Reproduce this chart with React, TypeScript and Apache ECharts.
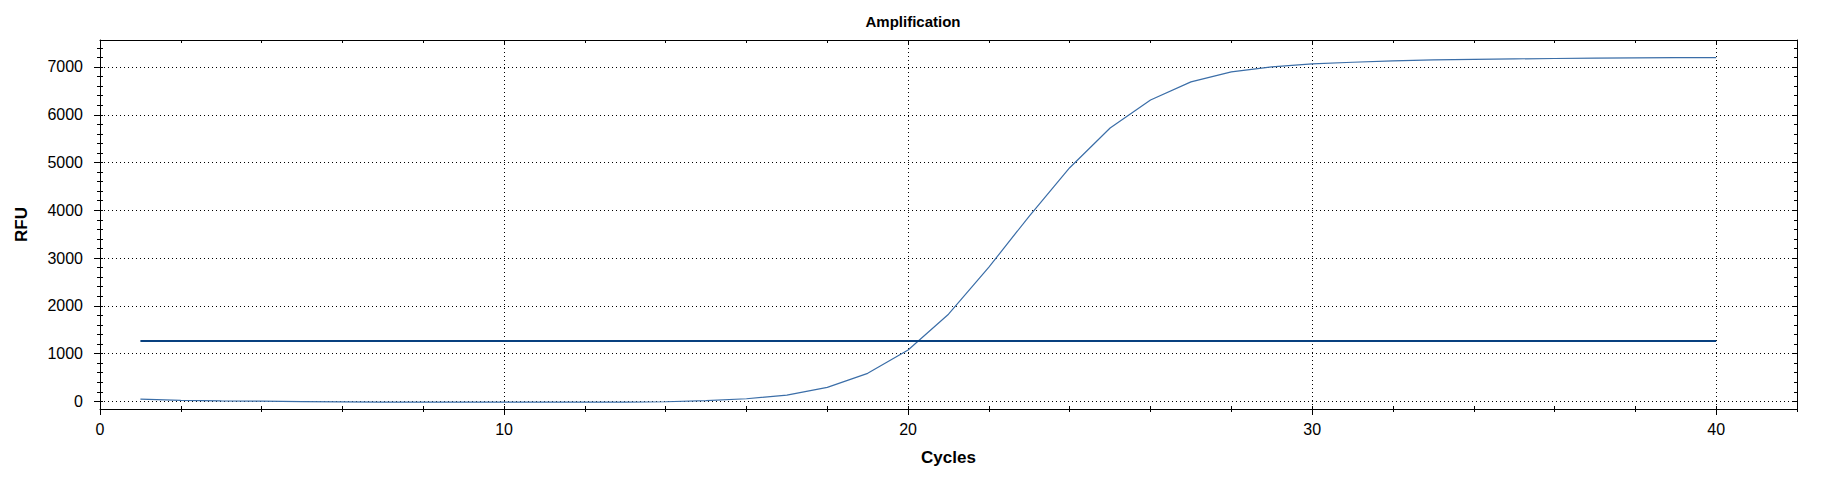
import React, { useRef, useEffect } from 'react';
import * as echarts from 'echarts';

// amplification curve (one well) and its threshold
const cycles = [
  1, 2, 3, 4, 5, 6, 7, 8, 9, 10, 11, 12, 13, 14, 15, 16, 17, 18, 19, 20,
  21, 22, 23, 24, 25, 26, 27, 28, 29, 30, 31, 32, 33, 34, 35, 36, 37, 38, 39, 40,
];
const rfu = [
  45, 20, 10, 5, -5, -12, -15, -16, -17, -18, -18, -18, -16, -8, 15, 55, 132, 293, 587, 1075,
  1824, 2810, 3880, 4891, 5723, 6310, 6688, 6897, 7002, 7065, 7099, 7128, 7149, 7160, 7170, 7178, 7185, 7190, 7195, 7198,
];
const thresholdCycles = [1, 40];
const thresholdRfu = 1265;

const xMajorTicks = [0, 10, 20, 30, 40];
const xMinorTicks = [0, 2, 4, 6, 8, 10, 12, 14, 16, 18, 20, 22, 24, 26, 28, 30, 32, 34, 36, 38, 40, 42];
const yMajorTicks = [0, 1000, 2000, 3000, 4000, 5000, 6000, 7000];
const yMinorTicks = [
  0, 200, 400, 600, 800, 1000, 1200, 1400, 1600, 1800, 2000, 2200, 2400, 2600, 2800, 3000, 3200, 3400, 3600,
  3800, 4000, 4200, 4400, 4600, 4800, 5000, 5200, 5400, 5600, 5800, 6000, 6200, 6400, 6600, 6800, 7000, 7200, 7400,
];

const X_MIN = 0;
const X_MAX = 42;
const Y_MIN = -160;
const Y_MAX = 7565;

const FONT = 'Liberation Sans, Arial, sans-serif';
const BLACK = '#000';

// extra axis used only to draw a set of tick marks
const tickAxis = (
  min: number,
  max: number,
  position: string,
  values: number[],
  length: number,
  inside: boolean,
  showLine = false
) => ({
  type: 'value',
  min,
  max,
  position,
  axisLine: { show: showLine, onZero: false, lineStyle: { color: BLACK, width: 1 } },
  axisTick: { show: true, inside, length, customValues: values, lineStyle: { color: BLACK, width: 1 } },
  axisLabel: { show: false },
  splitLine: { show: false },
});

const App: React.FC = () => {
  const chartRef = useRef<HTMLDivElement>(null);

  useEffect(() => {
    if (!chartRef.current) return;
    const chart = echarts.init(chartRef.current, null, { renderer: 'svg' });

    const dotted = { color: BLACK, width: 1, type: [1, 3] as number[] };

    const option: any = {
      animation: false,
      backgroundColor: '#fff',
      title: {
        text: 'Amplification',
        left: 'center',
        top: 9,
        textStyle: { fontFamily: FONT, fontSize: 15, fontWeight: 'bold', color: BLACK },
      },
      grid: { left: 100, right: 29, top: 40, bottom: 75 },
      xAxis: [
        {
          type: 'value',
          min: X_MIN,
          max: X_MAX,
          interval: 10,
          position: 'bottom',
          name: 'Cycles',
          nameLocation: 'middle',
          nameGap: 40,
          nameTextStyle: { fontFamily: FONT, fontSize: 17, fontWeight: 'bold', color: BLACK },
          axisLine: { show: true, onZero: false, lineStyle: { color: BLACK, width: 1 } },
          axisTick: { show: true, inside: false, length: 6, customValues: xMajorTicks, lineStyle: { color: BLACK } },
          axisLabel: {
            customValues: xMajorTicks,
            formatter: (v: number) => String(v),
            fontFamily: FONT,
            fontSize: 16,
            color: BLACK,
            margin: 12,
          },
          splitLine: { show: true, lineStyle: dotted },
        },
        tickAxis(X_MIN, X_MAX, 'bottom', xMinorTicks, 3, false),
        tickAxis(X_MIN, X_MAX, 'bottom', xMinorTicks, 3, true),
        tickAxis(X_MIN, X_MAX, 'top', xMinorTicks, 3, true, true),
        tickAxis(X_MIN, X_MAX, 'top', xMajorTicks, 5, true),
      ],
      yAxis: [
        {
          type: 'value',
          min: Y_MIN,
          max: Y_MAX,
          splitNumber: 8,
          position: 'left',
          name: 'RFU',
          nameLocation: 'middle',
          nameGap: 70,
          nameTextStyle: { fontFamily: FONT, fontSize: 17, fontWeight: 'bold', color: BLACK },
          axisLine: { show: true, onZero: false, lineStyle: { color: BLACK, width: 1 } },
          axisTick: { show: true, inside: false, length: 6, customValues: yMajorTicks, lineStyle: { color: BLACK } },
          axisLabel: {
            customValues: yMajorTicks,
            formatter: (v: number) => String(v),
            fontFamily: FONT,
            fontSize: 16,
            color: BLACK,
            margin: 17,
          },
          splitLine: { show: true, lineStyle: dotted },
        },
        tickAxis(Y_MIN, Y_MAX, 'left', yMinorTicks, 3, false),
        tickAxis(Y_MIN, Y_MAX, 'left', yMinorTicks, 3, true),
        tickAxis(Y_MIN, Y_MAX, 'right', yMinorTicks, 3, true, true),
        tickAxis(Y_MIN, Y_MAX, 'right', yMajorTicks, 5, true),
      ],
      series: [
        {
          name: 'Well',
          type: 'line',
          xAxisIndex: 0,
          yAxisIndex: 0,
          data: cycles.map((c, i) => [c, rfu[i]]),
          showSymbol: false,
          symbol: 'none',
          lineStyle: { color: '#3b6ea8', width: 1.2 },
          z: 3,
        },
        {
          name: 'Threshold',
          type: 'line',
          xAxisIndex: 0,
          yAxisIndex: 0,
          data: thresholdCycles.map((c) => [c, thresholdRfu]),
          showSymbol: false,
          symbol: 'none',
          lineStyle: { color: '#08407f', width: 2 },
          z: 4,
        },
      ],
    };

    chart.setOption(option);

    return () => {
      chart.dispose();
    };
  }, []);

  return <div ref={chartRef} style={{ position: 'fixed', left: 0, top: 0, width: 1826, height: 484 }} />;
};

export default App;
